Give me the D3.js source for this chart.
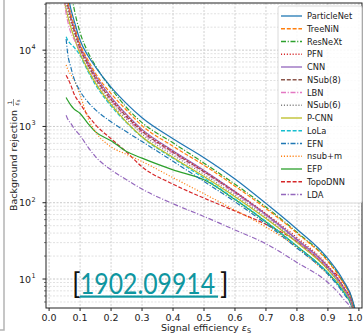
<!DOCTYPE html>
<html>
<head>
<meta charset="utf-8">
<script src="https://cdn.jsdelivr.net/npm/d3@7"></script>
<style>
  body { margin: 0; background: #fff; }
  svg { display: block; font-family: "DejaVu Sans", sans-serif; }
</style>
</head>
<body>
<div id="chart_area"></div>
<script>
// signal efficiency grid shared by all curves
var effGrid = [0.05, 0.055, 0.06, 0.07, 0.08, 0.1, 0.125, 0.15, 0.2, 0.25, 0.3, 0.4, 0.5, 0.6, 0.7, 0.8, 0.9, 0.95, 0.98, 0.99, 1.0];

// background rejection 1/eps_B (null = curve not started)
var particleNet = [90000, 70000, 55000, 35000, 25000, 13500, 8500, 6000, 3270, 1990, 1300, 690, 390, 205, 98, 45, 18.5, 9.5, 5.2, 3.4, 1];
var treeNiN = [70000, 56000, 45000, 30000, 22000, 12000, 7500, 4950, 2700, 1630, 1025, 550, 310, 165, 84, 40, 17, 8.8, 4.9, 3.2, 1];
var resNeXt = [150000, 130000, 110000, 60000, 36000, 17000, 9500, 6200, 3150, 1770, 1122, 610, 330, 175, 88, 41, 17.5, 9, 5, 3.3, 1];
var pfn = [60000, 48000, 40000, 26000, 19000, 11000, 6800, 4450, 2340, 1400, 891, 470, 260, 140, 72, 35, 15, 8, 4.6, 3, 1];
var cnn = [65000, 52000, 42000, 28000, 20000, 11500, 7000, 4650, 2430, 1440, 914, 480, 265, 140, 70, 33, 14.5, 7.8, 4.5, 3, 1];
var nsub8 = [55000, 45000, 38000, 26000, 18500, 10500, 6500, 4280, 2250, 1350, 867, 460, 255, 137, 70, 33, 14.5, 7.8, 4.5, 3, 1];
var lbn = [45000, 30000, 24000, 17000, 14000, 10000, 6400, 4180, 2200, 1300, 836, 445, 250, 133, 68, 32, 14, 7.6, 4.4, 2.9, 1];
var nsub6 = [50000, 40000, 33000, 23000, 17000, 9800, 6100, 4000, 2070, 1240, 792, 420, 235, 126, 65, 31, 13.5, 7.4, 4.3, 2.9, 1];
var pcnn = [42000, 34000, 28000, 20000, 15000, 9000, 5600, 3700, 1940, 1140, 732, 392, 220, 120, 62, 30, 13.2, 7.3, 4.3, 2.9, 1];
var lola = [null, 15000, 13500, 12000, 11000, 8500, 5300, 3500, 1850, 1120, 722, 382, 210, 112, 57, 27, 12, 6.8, 4.1, 2.8, 1];
var efn = [null, 14000, 9000, 6000, 4300, 2900, 2100, 1650, 1150, 850, 633, 350, 190, 103, 53, 25.5, 11.5, 6.5, 4, 2.7, 1];
var nsubM = [null, 6400, 5600, 4800, 4100, 2600, 1300, 850, 540, 430, 347, 213, 131, 80, 48, 26, 11.5, 7.3, 4.4, 3, 1];
var efp = [null, 2400, 2200, 1900, 1700, 1480, 1100, 850, 650, 470, 384, 270, 200, 110, 56, 27, 12, 6.8, 4.1, 2.8, 1];
var topoDNN = [null, 4700, 4300, 3500, 2700, 2000, 1400, 1050, 690, 460, 295, 175, 115, 78, 52, 31, 14, 9, 5, 3.3, 1];
var lda = [null, 1400, 1250, 1100, 950, 760, 540, 400, 270, 200, 151, 97, 66, 44, 29, 16.5, 9, 5.5, 3.6, 2.6, 1];

var seriesNames = ["ParticleNet", "TreeNiN", "ResNeXt", "PFN", "CNN", "NSub(8)", "LBN", "NSub(6)", "P-CNN", "LoLa", "EFN", "nsub+m", "EFP", "TopoDNN", "LDA"];
var seriesValues = [particleNet, treeNiN, resNeXt, pfn, cnn, nsub8, lbn, nsub6, pcnn, lola, efn, nsubM, efp, topoDNN, lda];

var xTicks = [0, 0.1, 0.2, 0.3, 0.4, 0.5, 0.6, 0.7, 0.8, 0.9, 1.0];
var yDecades = [1, 2, 3, 4];

// matplotlib tab10 colours and linestyle cycle
var colors = ["#1f77b4", "#ff7f0e", "#2ca02c", "#d62728", "#9467bd", "#8c564b", "#e377c2", "#7f7f7f", "#bcbd22", "#17becf", "#1f77b4", "#ff7f0e", "#2ca02c", "#d62728", "#9467bd"];
var dashes = ["none", "4,1.8", "5,1.7,1.1,1.7", "1.1,1.8"];

drawChart();

function drawChart() {
    var W = 363, H = 336;
    var pLeft = 46, pRight = 362, pTop = 3, pBottom = 308;

    var svg = d3.select("#chart_area")
        .append("svg")
        .attr("width", W)
        .attr("height", H);

    // slide frame on the left edge
    svg.append("path")
        .attr("d", "M4,0 L4,330 L0,330")
        .attr("fill", "none")
        .attr("stroke", "#b4b4b4")
        .attr("stroke-width", 1.5);

    var x = d3.scaleLinear().domain([-0.01, 1.01]).range([pLeft, pRight]);
    var y = d3.scaleLog().domain([4.17, 41500]).range([pBottom, pTop]);

    // grid
    var minorY = [];
    for (var k = 0; k <= 4; k++) {
        for (var m = 2; m <= 9; m++) {
            var v = m * Math.pow(10, k);
            if (v > 4.17 && v < 41500) minorY.push(v);
        }
    }
    var grid = svg.append("g");
    grid.selectAll(".minor")
        .data(minorY)
        .enter()
        .append("line")
        .attr("x1", pLeft).attr("x2", pRight)
        .attr("y1", d => y(d)).attr("y2", d => y(d))
        .attr("stroke", "#d4d4d4")
        .attr("stroke-width", 0.7)
        .attr("stroke-dasharray", "2,1.5");
    grid.selectAll(".majorY")
        .data(yDecades)
        .enter()
        .append("line")
        .attr("x1", pLeft).attr("x2", pRight)
        .attr("y1", d => y(Math.pow(10, d))).attr("y2", d => y(Math.pow(10, d)))
        .attr("stroke", "#bdbdbd")
        .attr("stroke-width", 0.8)
        .attr("stroke-dasharray", "2,1.5");
    grid.selectAll(".majorX")
        .data(xTicks)
        .enter()
        .append("line")
        .attr("x1", d => x(d)).attr("x2", d => x(d))
        .attr("y1", pTop).attr("y2", pBottom)
        .attr("stroke", "#c4c4c4")
        .attr("stroke-width", 0.8)
        .attr("stroke-dasharray", "2,1.5");

    svg.append("clipPath")
        .attr("id", "plotclip")
        .append("rect")
        .attr("x", pLeft).attr("y", pTop)
        .attr("width", pRight - pLeft).attr("height", pBottom - pTop);

    var line = d3.line()
        .defined(d => d.v != null)
        .x(d => x(d.e))
        .y(d => y(d.v))
        .curve(d3.curveMonotoneX);

    var curves = svg.append("g").attr("clip-path", "url(#plotclip)");
    // draw from the end of the legend so ParticleNet ends on top
    for (var i = seriesNames.length - 1; i >= 0; i--) {
        var vals = seriesValues[i];
        var pts = effGrid.map((e, j) => ({e: e, v: vals[j]}));
        curves.append("path")
            .datum(pts)
            .attr("d", line)
            .attr("fill", "none")
            .attr("stroke", colors[i])
            .attr("stroke-width", 1.2)
            .attr("stroke-dasharray", dashes[i % 4]);
    }

    // axes frame
    svg.append("rect")
        .attr("x", pLeft).attr("y", pTop)
        .attr("width", pRight - pLeft).attr("height", pBottom - pTop)
        .attr("fill", "none")
        .attr("stroke", "#222")
        .attr("stroke-width", 1);

    // x ticks
    var xAxis = svg.append("g");
    xAxis.selectAll("line")
        .data(xTicks)
        .enter()
        .append("line")
        .attr("x1", d => x(d)).attr("x2", d => x(d))
        .attr("y1", pBottom).attr("y2", pBottom + 3)
        .attr("stroke", "#222");
    xAxis.selectAll("text")
        .data(xTicks)
        .enter()
        .append("text")
        .attr("x", d => Math.min(x(d), 355))
        .attr("y", pBottom + 13)
        .attr("text-anchor", "middle")
        .attr("font-size", 9.5)
        .attr("fill", "#222")
        .text(d => d3.format(".1f")(d));

    // y ticks
    var yAxis = svg.append("g");
    yAxis.selectAll(".minorTick")
        .data(minorY)
        .enter()
        .append("line")
        .attr("x1", pLeft - 2).attr("x2", pLeft)
        .attr("y1", d => y(d)).attr("y2", d => y(d))
        .attr("stroke", "#222")
        .attr("stroke-width", 0.6);
    yAxis.selectAll(".majorTick")
        .data(yDecades)
        .enter()
        .append("line")
        .attr("x1", pLeft - 3.5).attr("x2", pLeft)
        .attr("y1", d => y(Math.pow(10, d))).attr("y2", d => y(Math.pow(10, d)))
        .attr("stroke", "#222");
    yAxis.selectAll(".yl")
        .data(yDecades)
        .enter()
        .append("text")
        .attr("x", pLeft - 15)
        .attr("y", d => y(Math.pow(10, d)) + 3.5)
        .attr("text-anchor", "end")
        .attr("font-size", 9.5)
        .attr("fill", "#222")
        .text("10");
    yAxis.selectAll(".ys")
        .data(yDecades)
        .enter()
        .append("text")
        .attr("x", pLeft - 14.5)
        .attr("y", d => y(Math.pow(10, d)) - 1)
        .attr("font-size", 6.5)
        .attr("fill", "#222")
        .text(d => d);

    // axis labels
    var xl = svg.append("text")
        .attr("x", (pLeft + pRight) / 2 + 2)
        .attr("y", 331)
        .attr("text-anchor", "middle")
        .attr("font-size", 9.5)
        .attr("fill", "#222");
    xl.append("tspan").text("Signal efficiency ");
    xl.append("tspan").attr("font-style", "italic").text("ε");
    xl.append("tspan").attr("font-size", 6.5).attr("dy", 2).text("S");

    var yl = svg.append("g")
        .attr("transform", "translate(17," + ((pTop + pBottom) / 2) + ") rotate(-90)");
    yl.append("text")
        .attr("x", -5)
        .attr("y", 0)
        .attr("text-anchor", "middle")
        .attr("font-size", 9.5)
        .attr("fill", "#222")
        .text("Background rejection");
    yl.append("text")
        .attr("x", 53)
        .attr("y", -5)
        .attr("text-anchor", "middle")
        .attr("font-size", 6)
        .attr("fill", "#222")
        .text("1");
    yl.append("line")
        .attr("x1", 49.5).attr("x2", 56.5)
        .attr("y1", -3.5).attr("y2", -3.5)
        .attr("stroke", "#222").attr("stroke-width", 0.5);
    var frac = yl.append("text")
        .attr("x", 50)
        .attr("y", 2)
        .attr("font-size", 6)
        .attr("fill", "#222");
    frac.append("tspan").attr("font-style", "italic").text("ε");
    frac.append("tspan").attr("font-size", 4).attr("dy", 1).text("B");

    // legend
    var legend = svg.append("g");
    legend.append("rect")
        .attr("x", 278).attr("y", 6)
        .attr("width", 84).attr("height", 197)
        .attr("rx", 2)
        .attr("fill", "#fff")
        .attr("fill-opacity", 0.85)
        .attr("stroke", "#d0d0d0")
        .attr("stroke-width", 0.8);
    var rowY = d3.scaleLinear().domain([0, seriesNames.length - 1]).range([16, 194.5]);
    seriesNames.forEach(function(name, i) {
        legend.append("line")
            .attr("x1", 281).attr("x2", 302)
            .attr("y1", rowY(i)).attr("y2", rowY(i))
            .attr("stroke", colors[i])
            .attr("stroke-width", 1.3)
            .attr("stroke-dasharray", dashes[i % 4]);
        legend.append("text")
            .attr("x", 307)
            .attr("y", rowY(i) + 3)
            .attr("font-size", 8.3)
            .attr("fill", "#222")
            .text(name);
    });

    // arXiv reference
    svg.append("text")
        .attr("x", 72).attr("y", 294)
        .attr("font-family", "Lato, 'Open Sans', sans-serif")
        .attr("font-size", 28)
        .attr("fill", "#111")
        .text("[");
    svg.append("text")
        .attr("x", 80).attr("y", 294)
        .attr("font-family", "Lato, 'Open Sans', sans-serif")
        .attr("font-size", 28)
        .attr("fill", "#0f96a0")
        .attr("textLength", 135)
        .attr("lengthAdjust", "spacingAndGlyphs")
        .text("1902.09914");
    svg.append("rect")
        .attr("x", 80).attr("y", 295.5)
        .attr("width", 138).attr("height", 2.2)
        .attr("fill", "#0f96a0");
    svg.append("text")
        .attr("x", 220).attr("y", 294)
        .attr("font-family", "Lato, 'Open Sans', sans-serif")
        .attr("font-size", 28)
        .attr("fill", "#111")
        .text("]");
}
</script>
</body>
</html>
